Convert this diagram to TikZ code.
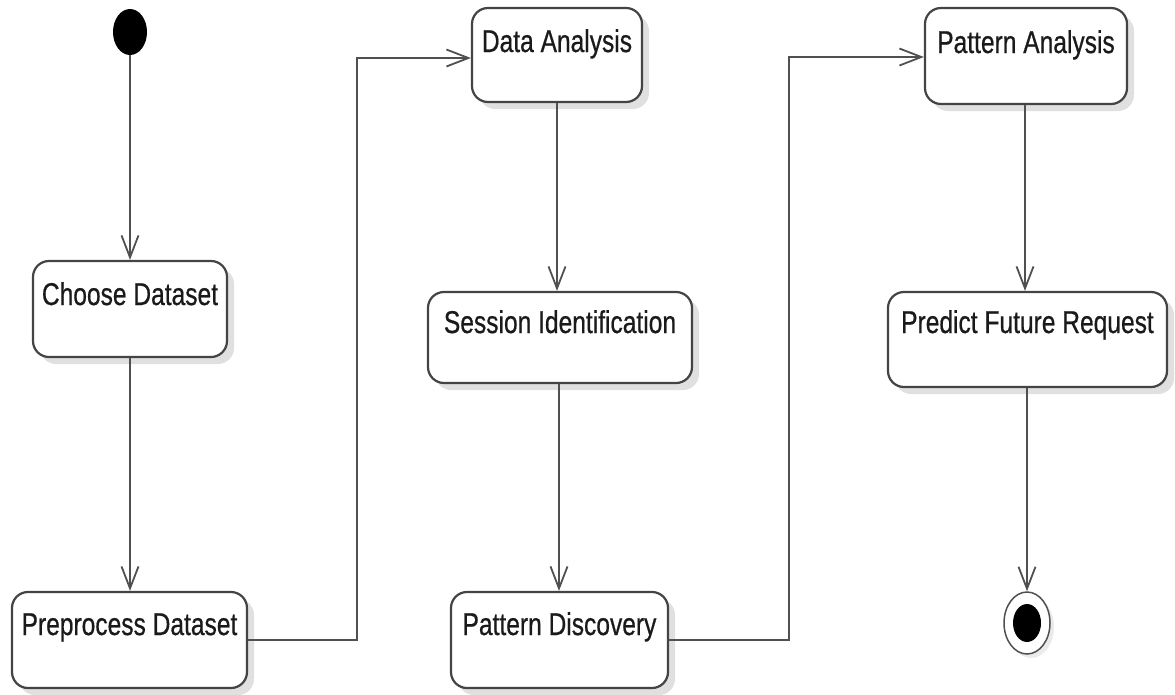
\documentclass[tikz,border=0pt]{standalone}
\usepackage{fontspec}
\setmainfont[FakeBold=0.7]{Liberation Sans}
\usetikzlibrary{arrows.meta,shadows,positioning,shapes.geometric}
\definecolor{linec}{HTML}{505050}
\definecolor{boxc}{HTML}{444444}
\definecolor{textc}{HTML}{1A1A1A}
\tikzset{
  actbox/.style={draw=boxc, line width=2.2pt, rounded corners=16pt, fill=white,
    inner sep=0pt, anchor=center, align=center, text=textc,
    drop shadow={shadow xshift=7pt, shadow yshift=-7pt, opacity=0.12, fill=black},
    font=\fontsize{31.5}{34}\selectfont},
  flow/.style={draw=linec, line width=1.8pt,
    -{Straight Barb[length=22pt,width=17pt,line width=1.8pt]}},
}
\newcommand{\lbl}[1]{\scalebox{0.78}[1]{#1}}
\begin{document}
\begin{tikzpicture}[x=1pt,y=-1pt]
\useasboundingbox (0,0) rectangle (1175,694);
% initial and final
\node[draw=none, fill=black, ellipse, minimum width=34pt, minimum height=46pt, inner sep=0pt] (start) at (130,32) {};
\node[draw=linec, line width=1.5pt, fill=white, ellipse, minimum width=46pt, minimum height=62pt, inner sep=0pt,
  drop shadow={shadow xshift=4pt, shadow yshift=-4pt, opacity=0.08, fill=black}] (endo) at (1027,623) {};
\node[fill=black, ellipse, minimum width=28pt, minimum height=38pt, inner sep=0pt] (endi) at (1027,623) {};
% activity boxes
\node[actbox, minimum width=194pt, minimum height=96pt, text height=44pt, text depth=52pt] (choose) at (130,309) {\lbl{Choose Dataset}};
\node[actbox, minimum width=235pt, minimum height=96pt, text height=43pt, text depth=53pt] (prep) at (129.5,640) {\lbl{Preprocess Dataset}};
\node[actbox, minimum width=170pt, minimum height=94pt, text height=44pt, text depth=50pt] (data) at (557,55) {\lbl{Data Analysis}};
\node[actbox, minimum width=264pt, minimum height=91pt, text height=41pt, text depth=50pt] (sess) at (560,337.5) {\lbl{Session Identification}};
\node[actbox, minimum width=217pt, minimum height=96pt, text height=43pt, text depth=53pt] (disc) at (559.5,640) {\lbl{Pattern Discovery}};
\node[actbox, minimum width=202pt, minimum height=96pt, text height=45pt, text depth=51pt] (pana) at (1026,56) {\lbl{Pattern Analysis}};
\node[actbox, minimum width=279pt, minimum height=95pt, text height=41pt, text depth=54pt] (pred) at (1027.5,339.5) {\lbl{Predict Future Request}};
% connectors
\coordinate (c1) at (357,640);
\coordinate (c2) at (357,58);
\coordinate (c3) at (789,640);
\coordinate (c4) at (789,57);
\draw[flow] (start.south) -- (choose.north);
\draw[flow] (choose.south) -- (prep.north -| choose.south);
\draw[flow] (prep.east |- c1) -- (c1) -- (c2) -- (data.west |- c2);
\draw[flow] (data.south -| 557,0) -- (sess.north -| 557,0);
\draw[flow] (sess.south -| 559,0) -- (disc.north -| 559,0);
\draw[flow] (disc.east |- c3) -- (c3) -- (c4) -- (pana.west |- c4);
\draw[flow] (pana.south -| 1025,0) -- (pred.north -| 1025,0);
\draw[flow] (pred.south -| 1027,0) -- (endo.north);
\end{tikzpicture}
\end{document}
